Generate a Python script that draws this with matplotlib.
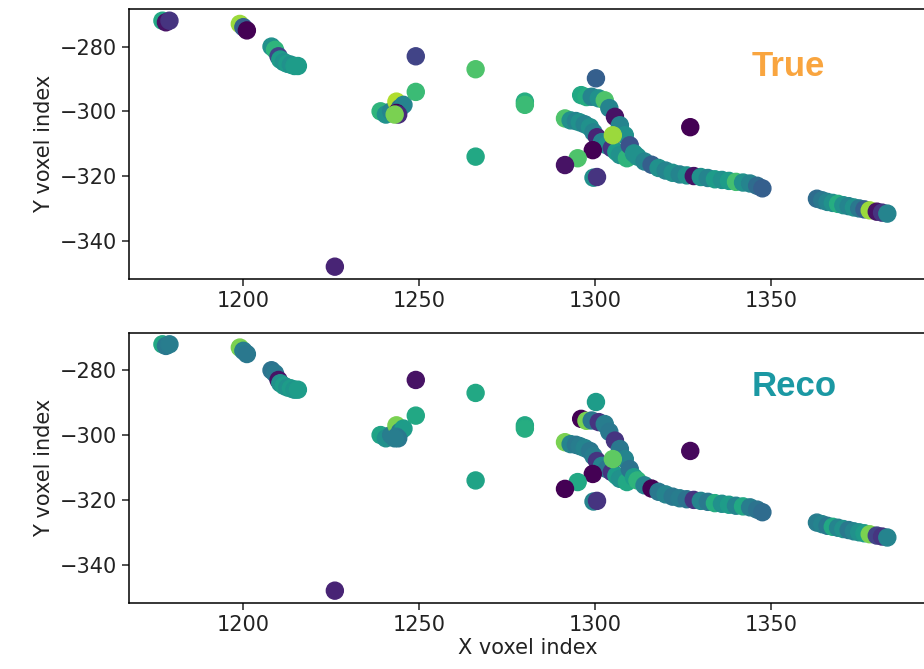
import numpy as np
import matplotlib.pyplot as plt

# voxel positions (same hits in both panels)
x = [1177, 1178, 1179,
     1199, 1200, 1201,
     1208, 1209, 1210, 1210.5, 1211.5, 1212.5, 1213.5, 1214.5, 1215.5,
     1226,
     1239, 1240.5, 1242, 1243.5, 1244.5, 1245.5, 1243.5, 1244, 1243,
     1249, 1249,
     1266, 1266, 1280, 1280,
     1291.4, 1293, 1294.5, 1295.6, 1297, 1298.5, 1299.5, 1300.5, 1301.9, 1303.3, 1304.7, 1306, 1307, 1309,
     1296, 1297.5, 1299, 1301, 1302.7, 1304, 1305.6, 1307, 1308.4, 1309.8, 1311,
     1300.2,
     1312, 1314, 1316, 1318, 1320, 1322, 1324, 1326, 1328, 1330, 1332, 1334, 1336, 1338, 1340, 1342, 1344, 1346, 1347.5,
     1305, 1299.3, 1295, 1291.4, 1299.5, 1300.5, 1327,
     1363, 1364.5, 1366, 1367.5, 1369, 1370.5, 1372, 1373.5, 1375, 1376.5, 1378, 1380, 1381.5, 1383]
y = [-272, -272.5, -272,
     -273, -274, -275,
     -280, -281, -283, -284, -284.8, -285.3, -285.6, -286, -286,
     -348,
     -300, -301, -300, -297, -299, -298, -300.5, -301, -301,
     -283, -294,
     -287, -314, -297, -298,
     -302.2, -302.8, -303, -303.4, -304, -304.9, -306.5, -308, -309.5, -310.5, -311.4, -312.5, -313.5, -314.5,
     -295, -295.6, -295.5, -296, -296.6, -299, -301.7, -304.3, -307.4, -310.5, -313,
     -289.8,
     -314, -315.5, -316.5, -317.5, -318.3, -319, -319.5, -319.8, -320, -320.3, -320.6, -321, -321.2, -321.5, -321.8, -322, -322.3, -323, -323.8,
     -307.4, -312, -314.5, -316.6, -320.5, -320.3, -304.9,
     -327, -327.5, -328, -328.3, -328.6, -329, -329.3, -329.7, -330, -330.3, -330.6, -331, -331.3, -331.6]

# colour value per hit, true labels and reco labels
c_true = [0.6, 0.05, 0.15,
          0.85, 0.3, 0.0,
          0.5, 0.65, 0.2, 0.55, 0.5, 0.55, 0.5, 0.55, 0.55,
          0.1,
          0.65, 0.5, 0.45, 0.88, 0.35, 0.45, 0.0, 0.12, 0.8,
          0.2, 0.68,
          0.72, 0.6, 0.62, 0.68,
          0.72, 0.5, 0.45, 0.5, 0.45, 0.5, 0.45, 0.1, 0.45, 0.5, 0.15, 0.55, 0.5, 0.65,
          0.6, 0.62, 0.45, 0.5, 0.72, 0.45, 0.05, 0.45, 0.5, 0.25, 0.5,
          0.3,
          0.5, 0.45, 0.3, 0.5, 0.45, 0.5, 0.45, 0.5, 0.05, 0.5, 0.45, 0.55, 0.5, 0.55, 0.7, 0.5, 0.45, 0.35, 0.3,
          0.85, 0.0, 0.72, 0.05, 0.5, 0.15, 0.0,
          0.35, 0.4, 0.45, 0.5, 0.62, 0.5, 0.45, 0.5, 0.4, 0.3, 0.85, 0.05, 0.15, 0.45]
c_reco = [0.6, 0.4, 0.42,
          0.8, 0.42, 0.4,
          0.38, 0.4, 0.05, 0.5, 0.55, 0.5, 0.55, 0.52, 0.55,
          0.1,
          0.58, 0.5, 0.42, 0.8, 0.4, 0.55, 0.42, 0.4, 0.42,
          0.05, 0.6,
          0.6, 0.58, 0.6, 0.62,
          0.8, 0.45, 0.4, 0.42, 0.45, 0.4, 0.42, 0.15, 0.45, 0.4, 0.15, 0.55, 0.5, 0.6,
          0.0, 0.8, 0.4, 0.15, 0.42, 0.4, 0.15, 0.4, 0.45, 0.38, 0.55,
          0.55,
          0.65, 0.45, 0.0, 0.4, 0.45, 0.4, 0.42, 0.38, 0.15, 0.45, 0.4, 0.62, 0.5, 0.55, 0.45, 0.6, 0.42, 0.38, 0.35,
          0.75, 0.0, 0.6, 0.0, 0.45, 0.15, 0.02,
          0.42, 0.45, 0.4, 0.6, 0.45, 0.5, 0.4, 0.45, 0.5, 0.55, 0.8, 0.2, 0.15, 0.45]

fig = plt.figure(figsize=(9.24, 6.69), dpi=100)
ax1 = fig.add_axes([0.1396, 0.583, 0.8626, 0.403])
ax2 = fig.add_axes([0.1396, 0.0987, 0.8626, 0.4036])

for ax, c in [(ax1, c_true), (ax2, c_reco)]:
    ax.scatter(x, y, c=c, cmap='viridis', vmin=0, vmax=1, s=150)
    ax.set_xlim(1167.5, 1394)
    ax.set_ylim(-351.8, -268.5)
    ax.set_xticks([1200, 1250, 1300, 1350])
    ax.set_yticks([-280, -300, -320, -340])
    ax.tick_params(labelsize=15, length=5, width=1.1, colors='#222222')
    ax.set_ylabel("Y voxel index", fontsize=15, color='#222222')
    for s in ax.spines.values():
        s.set_linewidth(1.1)

ax2.set_xlabel("X voxel index", fontsize=15, labelpad=2, color='#222222')

fig.text(788 / 924, 1 - 67 / 669, "True", color='#f9a53f', fontsize=25,
         fontweight='bold', family='Liberation Sans', ha='center', va='center')
fig.text(794 / 924, 1 - 387 / 669, "Reco", color='#1b98a3', fontsize=25,
         fontweight='bold', family='Liberation Sans', ha='center', va='center')

fig.savefig("out.png", dpi=100)
